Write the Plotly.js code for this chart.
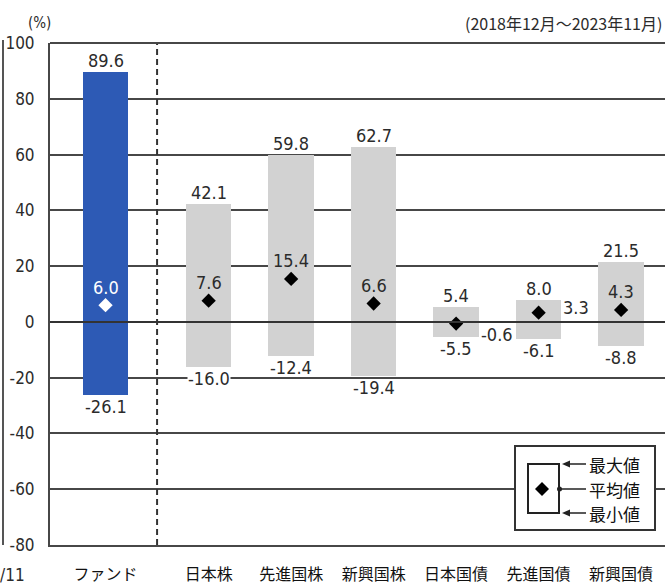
<!DOCTYPE html>
<html>
<head>
<meta charset="utf-8">
<script src="https://cdn.plot.ly/plotly-3.0.1.min.js"></script>
<style>
  html, body { margin: 0; padding: 0; background: #fff; }
  #chart { width: 665px; height: 587px; }
</style>
</head>
<body>
<div id="chart"></div>
<script>
// ---- data ----
const categories = ['ファンド', '日本株', '先進国株', '新興国株', '日本国債', '先進国債', '新興国債'];
const maxValues  = [89.6, 42.1, 59.8, 62.7, 5.4, 8.0, 21.5];
const minValues  = [-26.1, -16.0, -12.4, -19.4, -5.5, -6.1, -8.8];
const meanValues = [6.0, 7.6, 15.4, 6.6, -0.6, 3.3, 4.3];
const yTickValues = [-80, -60, -40, -20, 0, 20, 40, 60, 80, 100];
const unitLabel = '(%)';
const periodLabel = '(2018年12月～2023年11月)';
const legendLabels = ['最大値', '平均値', '最小値'];
const partialNeighbourLabel = '/11';

// ---- styles / layout config ----
const meanLabelPlacement = ['above', 'above', 'above', 'above', 'right-below', 'right-above', 'above'];
const minLabelBackground = [false, true, false, false, false, false, false];
const FUND_BLUE = '#2D5AB5';
const GREY_BAR = '#D2D2D2';
const LINE = '#474747';
const TXT = '#2b2b2b';
const NUM_FONT = "'DejaVu Sans Condensed', 'Liberation Sans Narrow', 'Roboto Condensed', 'Liberation Sans', sans-serif";
const CJK_FONT = "'Noto Sans CJK JP', 'Noto Sans', sans-serif";
const GAP = 0.25;          // extra space between the fund and the asset classes
const BAR_W = 0.55;

// pixel-geometry of the plotting area
const W = 665, H = 587, PL = 50, PR = 665, PT = 43, PB = 545;
const xp = px => (px - PL) / (PR - PL);
const yp = py => (PB - py) / (PB - PT);

const xPos = categories.map((c, i) => i === 0 ? 0 : i + GAP);
const barColors = categories.map((c, i) => i === 0 ? FUND_BLUE : GREY_BAR);
const markerColors = categories.map((c, i) => i === 0 ? '#ffffff' : '#000000');
const meanTextColors = categories.map((c, i) => i === 0 ? '#ffffff' : TXT);

const traces = [
  {
    type: 'bar',
    x: xPos,
    base: minValues,
    y: maxValues.map((v, i) => v - minValues[i]),
    width: BAR_W,
    marker: { color: barColors, line: { width: 0 } },
    hoverinfo: 'skip',
    showlegend: false
  },
  {
    type: 'scatter',
    mode: 'markers',
    x: xPos,
    y: meanValues,
    marker: { symbol: 'diamond', size: 11, color: markerColors, line: { width: 0 } },
    hoverinfo: 'skip',
    showlegend: false
  }
];

const annotations = [];
const numFont = (size, color) => ({ family: NUM_FONT, size: size, color: color || TXT });

xPos.forEach((x, i) => {
  annotations.push({
    x: x, y: maxValues[i], xref: 'x', yref: 'y',
    text: maxValues[i].toFixed(1), showarrow: false,
    xanchor: 'center', yanchor: 'bottom', yshift: -1,
    font: numFont(18)
  });
  annotations.push({
    x: x, y: minValues[i], xref: 'x', yref: 'y',
    text: minValues[i].toFixed(1), showarrow: false,
    xanchor: 'center', yanchor: 'top', yshift: 0, borderpad: 0,
    bgcolor: minLabelBackground[i] ? '#ffffff' : 'rgba(0,0,0,0)',
    font: numFont(18)
  });
  const p = meanLabelPlacement[i];
  const a = {
    x: x, y: meanValues[i], xref: 'x', yref: 'y',
    text: meanValues[i].toFixed(1), showarrow: false,
    font: numFont(18, meanTextColors[i])
  };
  if (p === 'above') {
    Object.assign(a, { xanchor: 'center', yanchor: 'middle', yshift: 18 });
  } else {
    a.x = x + BAR_W / 2;
    Object.assign(a, { xanchor: 'left', yanchor: 'middle', xshift: 0,
                       yshift: p === 'right-below' ? -11 : 5 });
  }
  annotations.push(a);
});

// header texts
annotations.push({
  xref: 'paper', yref: 'paper', x: xp(39), y: yp(23), text: unitLabel, showarrow: false,
  xanchor: 'center', yanchor: 'middle', font: numFont(15)
});
annotations.push({
  xref: 'paper', yref: 'paper', x: xp(664), y: yp(23), text: periodLabel, showarrow: false,
  xanchor: 'right', yanchor: 'middle', font: { family: CJK_FONT, size: 16, color: TXT }
});
annotations.push({
  xref: 'paper', yref: 'paper', x: xp(-2), y: yp(575), text: partialNeighbourLabel, showarrow: false,
  xanchor: 'left', yanchor: 'middle', font: numFont(17)
});

// legend explanation box
const legendRows = [464, 489, 513];
legendLabels.forEach((t, k) => {
  annotations.push({
    xref: 'paper', yref: 'paper', x: xp(587), y: yp(legendRows[k]), text: t, showarrow: false,
    xanchor: 'left', yanchor: 'middle', font: { family: CJK_FONT, size: 17, color: '#111' }
  });
});

const shapes = [];
// dashed divider between fund and asset classes
shapes.push({
  type: 'line', xref: 'x', yref: 'paper', x0: (xPos[0] + xPos[1]) / 2, x1: (xPos[0] + xPos[1]) / 2,
  y0: 0, y1: 1, line: { color: '#333', width: 2, dash: '6px,4px' }, layer: 'above'
});
// zero line drawn above the bars
shapes.push({
  type: 'line', xref: 'paper', yref: 'y', x0: 0, x1: 1, y0: 0, y1: 0,
  line: { color: '#333', width: 2 }, layer: 'above'
});
// top frame line
shapes.push({
  type: 'line', xref: 'paper', yref: 'paper', x0: 0, x1: 1, y0: 1, y1: 1,
  line: { color: LINE, width: 2 }, layer: 'above'
});
// legend box
shapes.push({
  type: 'rect', xref: 'paper', yref: 'paper', x0: xp(515), x1: xp(655), y0: yp(530), y1: yp(446),
  fillcolor: '#ffffff', line: { color: '#333', width: 2 }, layer: 'above'
});
shapes.push({
  type: 'rect', xref: 'paper', yref: 'paper', x0: xp(528), x1: xp(559), y0: yp(513), y1: yp(464),
  line: { color: '#222', width: 2 }, layer: 'above'
});
const dPath = (cx, cy, r) => `M ${xp(cx - r)} ${yp(cy)} L ${xp(cx)} ${yp(cy - r)} L ${xp(cx + r)} ${yp(cy)} L ${xp(cx)} ${yp(cy + r)} Z`;
shapes.push({ type: 'path', xref: 'paper', yref: 'paper', path: dPath(542, 489, 7), fillcolor: '#000', line: { width: 0 }, layer: 'above' });
// arrows to max / min
[464, 513].forEach(py => {
  shapes.push({ type: 'line', xref: 'paper', yref: 'paper', x0: xp(568), x1: xp(586), y0: yp(py), y1: yp(py),
                line: { color: '#222', width: 1.5 }, layer: 'above' });
  shapes.push({ type: 'path', xref: 'paper', yref: 'paper',
                path: `M ${xp(562)} ${yp(py)} L ${xp(570)} ${yp(py - 3.5)} L ${xp(570)} ${yp(py + 3.5)} Z`,
                fillcolor: '#222', line: { width: 0 }, layer: 'above' });
});
shapes.push({ type: 'line', xref: 'paper', yref: 'paper', x0: xp(559), x1: xp(586), y0: yp(489), y1: yp(489),
              line: { color: '#222', width: 1.5 }, layer: 'above' });
shapes.push({ type: 'circle', xref: 'paper', yref: 'paper', x0: xp(557), x1: xp(562), y0: yp(491.5), y1: yp(486.5),
              fillcolor: '#222', line: { width: 0 }, layer: 'above' });
// cropped neighbouring panel edge on the far left
shapes.push({ type: 'line', xref: 'paper', yref: 'paper', x0: xp(3), x1: xp(3), y0: yp(545), y1: yp(40),
              line: { color: '#555', width: 2 }, layer: 'above' });

const layout = {
  width: W, height: H,
  margin: { l: PL, r: W - PR, t: PT, b: H - PB, pad: 0 },
  paper_bgcolor: '#ffffff', plot_bgcolor: '#ffffff',
  showlegend: false,
  bargap: 0,
  xaxis: {
    range: [-0.673, 6.782],
    tickvals: xPos, ticktext: categories,
    ticks: '', showgrid: false, zeroline: false,
    showline: true, linecolor: LINE, linewidth: 2,
    ticklabelstandoff: 14,
    tickfont: { family: CJK_FONT, size: 16, color: '#111' },
    fixedrange: true
  },
  yaxis: {
    range: [-80, 100],
    tickvals: yTickValues, ticktext: yTickValues.map(String),
    ticks: '', showgrid: true, gridcolor: LINE, gridwidth: 2,
    zeroline: false, showline: true, linecolor: LINE, linewidth: 2,
    ticklabelstandoff: 10,
    tickfont: numFont(17),
    fixedrange: true
  },
  annotations: annotations,
  shapes: shapes
};

Plotly.newPlot('chart', traces, layout, { staticPlot: true, displayModeBar: false });
</script>
</body>
</html>
